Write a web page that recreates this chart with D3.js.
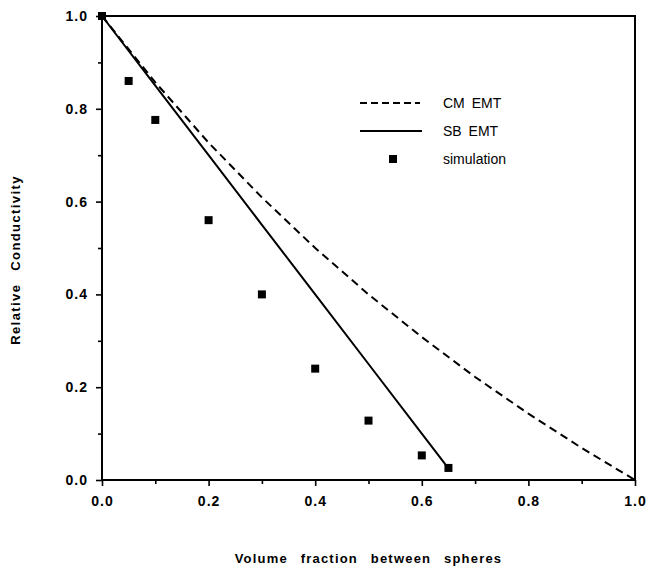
<!DOCTYPE html>
<html>
<head>
<meta charset="utf-8">
<script src="https://cdn.jsdelivr.net/npm/d3@7"></script>
<style>
  body { margin: 0; background: #fff; }
  svg { display: block; font-family: "Liberation Sans", Arial, sans-serif; }
</style>
</head>
<body>
<div id="chart"></div>
<script>
// values
var simX = [0, 0.05, 0.1, 0.2, 0.3, 0.4, 0.5, 0.6, 0.65];
var simY = [1.0, 0.86, 0.776, 0.56, 0.40, 0.24, 0.128, 0.053, 0.026];

var cmX = [0, 0.1, 0.2, 0.3, 0.4, 0.5, 0.6, 0.7, 0.8, 0.9, 1.0];
var cmY = [1.0, 0.857, 0.727, 0.609, 0.50, 0.40, 0.308, 0.222, 0.143, 0.069, 0.0];

var sbX = [0, 0.1, 0.2, 0.3, 0.4, 0.5, 0.6, 0.65];
var sbY = [1.0, 0.85, 0.70, 0.55, 0.40, 0.25, 0.10, 0.025];

var majorTicks = [0, 0.2, 0.4, 0.6, 0.8, 1.0];
var minorTicks = [0.1, 0.3, 0.5, 0.7, 0.9];

var legendLabels = ["CM EMT", "SB EMT", "simulation"];

var width = 647, height = 569;
var margin = {top: 16, right: 12, bottom: 89, left: 102};

var svg = d3.select("#chart").append("svg")
    .attr("width", width)
    .attr("height", height);

var x = d3.scaleLinear().domain([0, 1]).range([margin.left, width - margin.right]);
var y = d3.scaleLinear().domain([0, 1]).range([height - margin.bottom, margin.top]);

/*********** AXES ************/
var fmt = d3.format(".1f");

// minor ticks first, no labels
svg.append("g")
    .attr("transform", "translate(0," + y(0) + ")")
    .call(d3.axisBottom(x).tickValues(minorTicks).tickSize(4).tickFormat(""))
    .call(g => g.select(".domain").remove());
svg.append("g")
    .attr("transform", "translate(" + x(0) + ",0)")
    .call(d3.axisLeft(y).tickValues(minorTicks).tickSize(4).tickFormat(""))
    .call(g => g.select(".domain").remove());

var xAxis = svg.append("g")
    .attr("transform", "translate(0," + y(0) + ")")
    .call(d3.axisBottom(x).tickValues(majorTicks).tickSize(6).tickPadding(10).tickFormat(fmt));
xAxis.select(".domain").remove();

var yAxis = svg.append("g")
    .attr("transform", "translate(" + x(0) + ",0)")
    .call(d3.axisLeft(y).tickValues(majorTicks).tickSize(6).tickPadding(8).tickFormat(fmt));
yAxis.select(".domain").remove();

svg.selectAll(".tick line").attr("stroke", "#000").attr("stroke-width", 1.6);
svg.selectAll(".tick text")
    .attr("fill", "#000")
    .style("font-size", "14px")
    .style("font-weight", "bold")
    .style("letter-spacing", "1px");

// frame
svg.append("rect")
    .attr("x", x(0))
    .attr("y", y(1))
    .attr("width", x(1) - x(0))
    .attr("height", y(0) - y(1))
    .attr("fill", "none")
    .attr("stroke", "#000")
    .attr("stroke-width", 2);

/*********** LINES ************/
var line = d3.line()
    .x(d => x(d[0]))
    .y(d => y(d[1]));

svg.append("path")
    .datum(d3.zip(cmX, cmY))
    .attr("d", line)
    .attr("fill", "none")
    .attr("stroke", "#000")
    .attr("stroke-width", 2)
    .attr("stroke-dasharray", "8,5");

svg.append("path")
    .datum(d3.zip(sbX, sbY))
    .attr("d", line)
    .attr("fill", "none")
    .attr("stroke", "#000")
    .attr("stroke-width", 2);

var sq = 8;
svg.append("g").selectAll("rect")
    .data(d3.zip(simX, simY))
    .join("rect")
    .attr("x", d => x(d[0]) - sq / 2)
    .attr("y", d => y(d[1]) - sq / 2)
    .attr("width", sq)
    .attr("height", sq)
    .attr("fill", "#000");

/*********** LEGEND ************/
var legend = svg.append("g");
var ly = [103, 131, 159];

legend.append("line")
    .attr("x1", 360).attr("x2", 420)
    .attr("y1", ly[0]).attr("y2", ly[0])
    .attr("stroke", "#000").attr("stroke-width", 2)
    .attr("stroke-dasharray", "7,4");

legend.append("line")
    .attr("x1", 360).attr("x2", 422)
    .attr("y1", ly[1]).attr("y2", ly[1])
    .attr("stroke", "#000").attr("stroke-width", 2);

legend.append("rect")
    .attr("x", 393 - 4).attr("y", ly[2] - 4)
    .attr("width", 8).attr("height", 8)
    .attr("fill", "#000");

legend.selectAll("text")
    .data(legendLabels)
    .join("text")
    .attr("x", 443)
    .attr("y", (d, i) => ly[i])
    .attr("dy", "0.35em")
    .style("font-size", "14px")
    .style("word-spacing", "3px")
    .text(d => d);

/*********** AXIS TITLES ************/
svg.append("text")
    .attr("x", (x(0) + x(1)) / 2)
    .attr("y", 563)
    .attr("text-anchor", "middle")
    .style("font-size", "13px")
    .style("font-weight", "bold")
    .style("letter-spacing", "1.2px")
    .style("word-spacing", "8px")
    .text("Volume fraction between spheres");

svg.append("text")
    .attr("transform", "translate(20," + 260 + ") rotate(-90)")
    .attr("text-anchor", "middle")
    .style("font-size", "13px")
    .style("font-weight", "bold")
    .style("letter-spacing", "1.4px")
    .style("word-spacing", "8px")
    .text("Relative Conductivity");
</script>
</body>
</html>
